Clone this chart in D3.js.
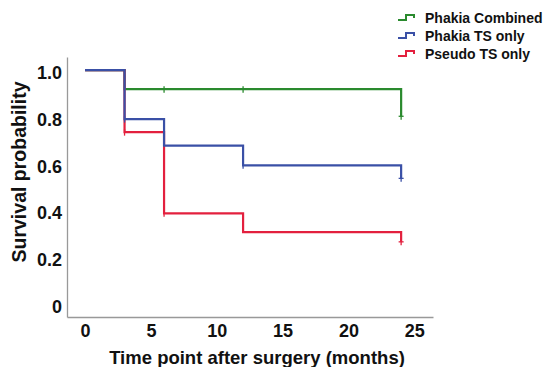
<!DOCTYPE html>
<html lang="en">
<head>
  <meta charset="utf-8">
  <title>Survival curves</title>
  <script src="https://cdn.jsdelivr.net/npm/d3@7"></script>
  <style>
    body { margin: 0; background: #fff; }
    svg text { font-family: 'Liberation Sans', Arial, sans-serif; font-weight: bold; fill: #111; }
  </style>
</head>
<body>
  <svg id="chart" width="544" height="367"></svg>
  <script>
    // series: step times (months) and survival after each step
    const groups = ["Phakia Combined", "Phakia TS only", "Pseudo TS only"];
    const colors = ["#2a8a2e", "#3a50a6", "#e3203e"];
    const stepTimes = [
      [0, 3, 24],
      [0, 3, 6, 12, 24],
      [0, 3, 6, 12, 24]
    ];
    const stepValues = [
      [1.0, 0.918, 0.802],
      [1.0, 0.79, 0.676, 0.592, 0.536],
      [1.0, 0.734, 0.386, 0.306, 0.264]
    ];
    // censored observations (months)
    const censorTimes = [
      [6, 12, 24],
      [3, 12, 24],
      [3, 6, 24]
    ];
    const xTicks = [0, 5, 10, 15, 20, 25];
    const yTicks = [0, 0.2, 0.4, 0.6, 0.8, 1.0];

    const svg = d3.select("#chart");

    const x = d3.scaleLinear().domain([-1.37, 26.42]).range([67, 433]);
    const y = d3.scaleLinear().domain([-0.058, 1.056]).range([317, 57]);

    // axes
    const yAxis = svg.append("g")
      .attr("transform", "translate(67,0)")
      .call(d3.axisLeft(y).tickValues(yTicks).tickSize(0).tickPadding(5)
        .tickFormat(d => d === 0 ? "0" : d3.format(".1f")(d)));
    yAxis.select(".domain").attr("stroke", "#999").attr("stroke-width", 1.3);
    yAxis.selectAll("text").attr("font-size", 18).attr("dy", "0.48em")
      .style("font-family", "'Liberation Sans', Arial, sans-serif").style("font-weight", "bold").attr("fill", "#111");

    const xAxis = svg.append("g")
      .attr("transform", "translate(0,317)")
      .call(d3.axisBottom(x).tickValues(xTicks).tickSize(0).tickPadding(7));
    xAxis.select(".domain").attr("stroke", "#999").attr("stroke-width", 1.3);
    xAxis.selectAll("text").attr("font-size", 18)
      .style("font-family", "'Liberation Sans', Arial, sans-serif").style("font-weight", "bold").attr("fill", "#111");

    // axis titles
    svg.append("text")
      .attr("x", 257).attr("y", 364)
      .attr("text-anchor", "middle")
      .attr("font-size", 18.5)
      .text("Time point after surgery (months)");

    svg.append("text")
      .attr("transform", "translate(26,172) rotate(-90)")
      .attr("text-anchor", "middle")
      .attr("font-size", 19.5)
      .text("Survival probability");

    // step curves: green first, red, then blue on top
    const order = [0, 2, 1];
    order.forEach(i => {
      const pts = stepTimes[i].map((t, k) => [t, stepValues[i][k]]);
      const last = pts[pts.length - 1];
      // the final drop at the last time has no tail
      const line = d3.line().x(d => x(d[0])).y(d => y(d[1])).curve(d3.curveStepAfter);
      svg.append("path")
        .datum(pts)
        .attr("d", line)
        .attr("fill", "none")
        .attr("stroke", colors[i])
        .attr("stroke-width", 2.2);

      // survival value at a given time
      const survAt = t => {
        let v = stepValues[i][0];
        stepTimes[i].forEach((s, k) => { if (s <= t) v = stepValues[i][k]; });
        return v;
      };
      const g = svg.append("g").attr("stroke", colors[i]).attr("stroke-width", 1.3);
      censorTimes[i].forEach(t => {
        const cx = x(t), cy = y(survAt(t));
        g.append("line").attr("x1", cx).attr("x2", cx).attr("y1", cy - 3).attr("y2", cy + 3.5);
        if (t === last[0]) {
          g.append("line").attr("x1", cx - 2.5).attr("x2", cx + 2.5).attr("y1", cy).attr("y2", cy);
        }
      });
    });

    // legend
    const legend = svg.append("g");
    groups.forEach((name, i) => {
      const ly = 18 + i * 18;
      legend.append("path")
        .attr("d", `M398,${ly + 2}H406V${ly - 3}H414V${ly}`)
        .attr("fill", "none")
        .attr("stroke", colors[i])
        .attr("stroke-width", 2);
      legend.append("text")
        .attr("x", 425).attr("y", ly + 4.5)
        .attr("font-size", 14)
        .text(name);
    });
  </script>
</body>
</html>
